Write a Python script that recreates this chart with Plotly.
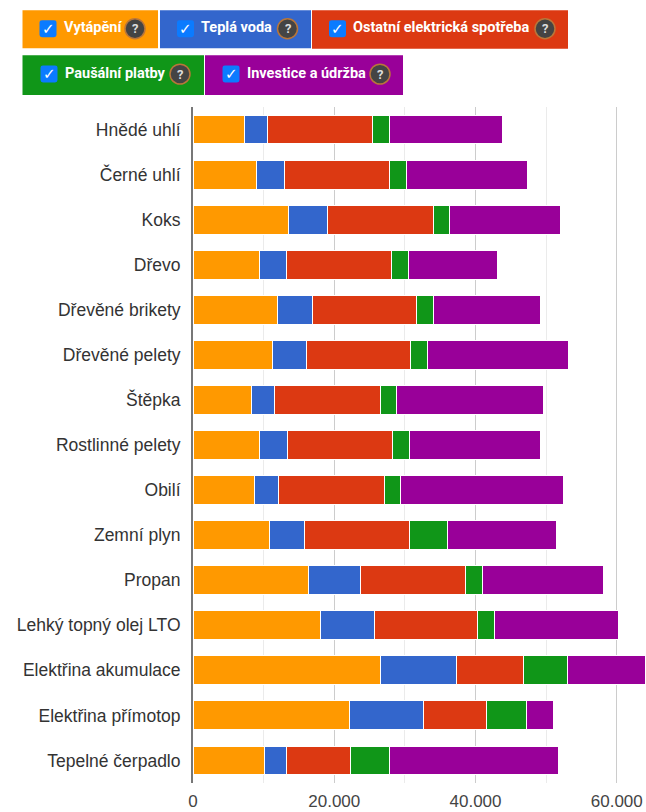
import plotly.graph_objects as go

categories = ["Hnědé uhlí", "Černé uhlí", "Koks", "Dřevo", "Dřevěné brikety", "Dřevěné pelety",
              "Štěpka", "Rostlinné pelety", "Obilí", "Zemní plyn", "Propan", "Lehký topný olej LTO",
              "Elektřina akumulace", "Elektřina přímotop", "Tepelné čerpadlo"]
series_names = ["Vytápění", "Teplá voda", "Ostatní elektrická spotřeba", "Paušální platby", "Investice a údržba"]
colors = ["#FF9900", "#3366CC", "#DC3912", "#109618", "#990099"]
vytapeni = [7300, 9050, 13500, 9400, 11900, 11200, 8350, 9400, 8700, 10850, 16400, 18100, 26550, 22100, 10100]
tepla_voda = [3200, 3950, 5550, 3850, 4950, 4800, 3200, 4000, 3400, 4950, 7250, 7550, 10700, 10500, 3200]
ostatni = [14900, 14800, 14950, 14850, 14850, 14800, 14950, 14900, 14950, 14800, 14950, 14700, 9500, 8900, 8950]
pausal = [2400, 2400, 2300, 2350, 2300, 2350, 2300, 2300, 2350, 5500, 2350, 2350, 6300, 5650, 5550]
investice = [16000, 17200, 15750, 12700, 15200, 19950, 20800, 18600, 23000, 15400, 17200, 17600, 11000, 3850, 23900]
all_series = [vytapeni, tepla_voda, ostatni, pausal, investice]
x_ticks = [0, 20000, 40000, 60000]
x_labels = ["0", "20.000", "40.000", "60.000"]

W, H = 646, 812
L, R, T, B = 193, 1, 107, 27
fig = go.Figure()
for name, col, vals in zip(series_names, colors, all_series):
    fig.add_trace(go.Bar(y=categories, x=vals, name=name, orientation="h",
                         marker=dict(color=col, line=dict(color="white", width=1))))

def px(x): return (x - L) / (W - L - R)
def py(y): return 1 - (y - T) / (H - T - B)

def rounded(x0, x1, y0, y1, r):
    a, b, c, d = px(x0), px(x1), py(y0), py(y1)
    ax, ay = px(x0 + r), py(y0 + r)
    bx, dy = px(x1 - r), py(y1 - r)
    return (f"M {ax} {c} L {bx} {c} Q {b} {c} {b} {ay} L {b} {dy} Q {b} {d} {bx} {d} "
            f"L {ax} {d} Q {a} {d} {a} {dy} L {a} {ay} Q {a} {c} {ax} {c} Z")

# legend blocks: (label index, left, right, top, bottom, checkbox x, text x, help x)
blocks = [(0, 22.5, 158, 10, 48, 48, 63.5, 135),
          (1, 160, 311, 10, 48, 185.5, 201, 287.5),
          (2, 312, 568, 10, 48.5, 337.5, 353, 545),
          (3, 22.5, 204, 55, 95, 49, 65, 180),
          (4, 205, 403, 55, 95, 231, 246.5, 380)]
shapes, annos = [], []
for i, l, r, t, b, cx, tx, hx in blocks:
    yc = 28.5 if t < 50 else 74
    shapes.append(dict(type="rect", xref="paper", yref="paper", x0=px(l), x1=px(r), y0=py(t), y1=py(b),
                       fillcolor=colors[i], line=dict(width=0), layer="above"))
    shapes.append(dict(type="path", xref="paper", yref="paper", path=rounded(cx - 8.5, cx + 8.5, yc - 8.5, yc + 8.5, 2.5),
                       fillcolor="#0B7BFF", line=dict(width=0), layer="above"))
    shapes.append(dict(type="circle", xref="paper", yref="paper", x0=px(hx - 10), x1=px(hx + 10),
                       y0=py(yc - 10), y1=py(yc + 10),
                       fillcolor="#444444", line=dict(width=1.5, color="#B9763A"), layer="above"))
    annos.append(dict(xref="paper", yref="paper", x=px(cx), y=py(yc), text="<b>✓</b>", showarrow=False,
                      xanchor="center", yanchor="middle", font=dict(size=15, color="white", family="DejaVu Sans")))
    annos.append(dict(xref="paper", yref="paper", x=px(tx), y=py(yc - 1), xanchor="left", yanchor="middle",
                      text="<b>%s</b>" % series_names[i], showarrow=False, xshift=-2,
                      font=dict(size=14.5, color="white", family="Roboto")))
    annos.append(dict(xref="paper", yref="paper", x=px(hx), y=py(yc), text="<b>?</b>", showarrow=False,
                      xanchor="center", yanchor="middle", font=dict(size=13, color="#dddddd", family="Roboto")))

fig.update_layout(
    width=W, height=H, barmode="stack", bargap=0.36, showlegend=False,
    margin=dict(l=L, r=R, t=T, b=B, pad=0), plot_bgcolor="white", paper_bgcolor="white",
    font=dict(family="Liberation Sans", size=16, color="#333333"), shapes=shapes, annotations=annos,
    xaxis=dict(range=[0, 64000], tickvals=x_ticks, ticktext=x_labels, showgrid=True, gridcolor="#cccccc",
               gridwidth=1, zeroline=False, ticks="", ticklabelstandoff=6, tickfont=dict(size=17, color="#444444"),
               minor=dict(tickvals=[10000, 30000, 50000], showgrid=True, gridcolor="#ebebeb", gridwidth=1)),
    yaxis=dict(autorange="reversed", showline=True, linecolor="#777777", linewidth=2, ticks="",
               ticklabelstandoff=7, tickfont=dict(size=17.5, color="#333333")),
)
fig.write_html("out.html", default_width="646px", default_height="812px",
               config=dict(displayModeBar=False),
               post_script="document.body.style.margin='0';")
